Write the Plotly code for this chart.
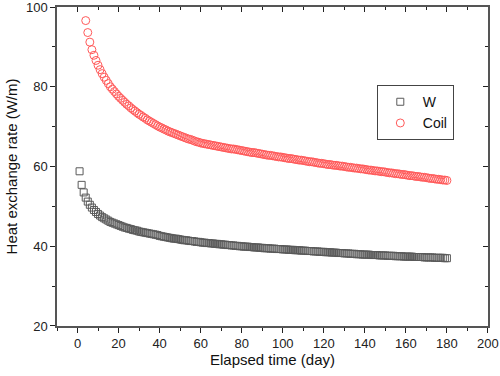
import plotly.graph_objects as go

w_days = list(range(1, 181))
w_values = [
    58.8, 55.4, 53.5, 52.2, 51.2, 50.4, 49.7, 49.1, 48.6, 48.1,
    47.7, 47.3, 47.0, 46.7, 46.4, 46.1, 45.9, 45.7, 45.5, 45.3,
    45.1, 44.9, 44.7, 44.6, 44.4, 44.3, 44.1, 44.0, 43.9, 43.7,
    43.6, 43.5, 43.4, 43.3, 43.2, 43.1, 43.0, 42.9, 42.8, 42.6,
    42.5, 42.4, 42.3, 42.2, 42.1, 42.0, 41.9, 41.9, 41.8, 41.7,
    41.6, 41.5, 41.5, 41.4, 41.3, 41.3, 41.2, 41.1, 41.1, 41.0,
    40.9, 40.9, 40.8, 40.8, 40.7, 40.7, 40.6, 40.6, 40.5, 40.5,
    40.4, 40.4, 40.3, 40.3, 40.2, 40.2, 40.1, 40.1, 40.0, 40.0,
    39.9, 39.9, 39.9, 39.8, 39.8, 39.7, 39.7, 39.7, 39.6, 39.6,
    39.5, 39.5, 39.5, 39.4, 39.4, 39.4, 39.3, 39.3, 39.3, 39.2,
    39.2, 39.2, 39.1, 39.1, 39.1, 39.0, 39.0, 39.0, 38.9, 38.9,
    38.9, 38.8, 38.8, 38.8, 38.7, 38.7, 38.7, 38.6, 38.6, 38.6,
    38.5, 38.5, 38.5, 38.4, 38.4, 38.4, 38.3, 38.3, 38.3, 38.2,
    38.2, 38.2, 38.1, 38.1, 38.1, 38.0, 38.0, 38.0, 37.9, 37.9,
    37.9, 37.9, 37.8, 37.8, 37.8, 37.8, 37.7, 37.7, 37.7, 37.7,
    37.6, 37.6, 37.6, 37.6, 37.5, 37.5, 37.5, 37.5, 37.4, 37.4,
    37.4, 37.4, 37.4, 37.3, 37.3, 37.3, 37.3, 37.3, 37.2, 37.2,
    37.2, 37.2, 37.2, 37.1, 37.1, 37.1, 37.1, 37.1, 37.0, 37.0,
]

coil_days = list(range(4, 181))
coil_values = [
    96.6, 93.6, 91.2, 89.3, 87.9, 86.6, 85.4,
    84.3, 83.3, 82.4, 81.6, 80.8, 80.0,
    79.4, 78.8, 78.2, 77.6,
    77.1, 76.6, 76.1, 75.6, 75.2, 74.7, 74.3, 73.9, 73.5, 73.1,
    72.8, 72.4, 72.1, 71.7, 71.4, 71.1, 70.8, 70.5, 70.2, 69.9,
    69.7, 69.4, 69.2, 68.9, 68.7, 68.5, 68.3, 68.1, 67.9, 67.7,
    67.5, 67.3, 67.1, 66.9, 66.8, 66.6, 66.4, 66.2, 66.1, 65.9,
    65.8, 65.7, 65.6, 65.5, 65.4, 65.3, 65.2, 65.1, 65.0, 64.9,
    64.8, 64.7, 64.6, 64.5, 64.4, 64.4, 64.3, 64.2, 64.1, 64.0,
    63.9, 63.8, 63.7, 63.6, 63.5, 63.5, 63.4, 63.3, 63.2, 63.1,
    63.0, 62.9, 62.8, 62.8, 62.7, 62.6, 62.5, 62.4, 62.4, 62.3,
    62.2, 62.1, 62.0, 62.0, 61.9, 61.8, 61.7, 61.6, 61.6, 61.5,
    61.4, 61.3, 61.2, 61.2, 61.1, 61.0, 60.9, 60.8, 60.8, 60.7,
    60.6, 60.5, 60.5, 60.4, 60.3, 60.3, 60.2, 60.1, 60.1, 60.0,
    59.9, 59.8, 59.8, 59.7, 59.6, 59.6, 59.5, 59.4, 59.4, 59.3,
    59.2, 59.1, 59.1, 59.0, 58.9, 58.9, 58.8, 58.7, 58.7, 58.6,
    58.5, 58.4, 58.4, 58.3, 58.2, 58.2, 58.1, 58.0, 58.0, 57.9,
    57.8, 57.7, 57.7, 57.6, 57.5, 57.5, 57.4, 57.3, 57.3, 57.2,
    57.1, 57.0, 57.0, 56.9, 56.8, 56.8, 56.7, 56.6, 56.6, 56.5,
]

x_ticks = [0, 20, 40, 60, 80, 100, 120, 140, 160, 180, 200]
y_ticks = [20, 40, 60, 80, 100]
x_range = [-10, 200.02]
y_range = [19.995, 100.01]

FONT = "Liberation Sans, Arial, sans-serif"
AX = "#555555"
TC = "#222222"


def minor(kind):
    return dict(dtick=10, tick0=0, ticklen=3, tickcolor=TC, ticks=kind)


base = dict(showgrid=False, zeroline=False, showline=True, linecolor=AX,
            linewidth=1.5, tickcolor=TC, ticklen=5, tickwidth=1, automargin=False,
            ticklabeloverflow="allow")

fig = go.Figure()
fig.add_trace(go.Scatter(
    x=w_days, y=w_values, mode="markers", name="W",
    marker=dict(symbol="square-open", size=7, color="#5a5a5a", line=dict(width=1)),
))
fig.add_trace(go.Scatter(
    x=coil_days, y=coil_values, mode="markers", name="Coil",
    marker=dict(symbol="circle-open", size=8, color="#ff5a5a", line=dict(width=1)),
))
# invisible trace hosting the mirrored (top/right) axes
fig.add_trace(go.Scatter(
    x=[x_range[0]], y=[y_range[0]], xaxis="x2", yaxis="y2", mode="markers",
    marker=dict(opacity=0), showlegend=False, hoverinfo="skip",
))

fig.update_layout(
    width=500, height=376,
    margin=dict(l=57, r=12, t=7, b=50),
    paper_bgcolor="white", plot_bgcolor="white",
    font=dict(family=FONT, color="#111"),
    xaxis=dict(base, range=x_range, tickvals=x_ticks, ticks="outside", minor=minor("outside"),
               tickfont=dict(size=13, color=TC),
               title=dict(text="Elapsed time (day)", font=dict(size=15, color="#111"), standoff=3)),
    yaxis=dict(base, range=y_range, tickvals=y_ticks, ticks="outside", minor=minor("outside"),
               tickfont=dict(size=13, color=TC),
               title=dict(text="Heat exchange rate (W/m)", font=dict(size=15, color="#111"), standoff=5)),
    xaxis2=dict(base, range=x_range, tickvals=x_ticks, overlaying="x", side="top",
                ticks="inside", minor=minor("inside"), showticklabels=False),
    yaxis2=dict(base, range=y_range, tickvals=y_ticks, overlaying="y", side="right",
                ticks="inside", minor=minor("inside"), showticklabels=False),
    showlegend=True,
    legend=dict(x=0.742, y=0.755, xanchor="left", yanchor="top",
                bordercolor="#444", borderwidth=1, bgcolor="white",
                font=dict(size=14, family=FONT, color="#111"),
                itemwidth=35, tracegroupgap=0),
)

fig.write_html(
    "out.html",
    config={"displayModeBar": False},
    post_script="document.body.style.margin='0';document.body.style.overflow='hidden';",
)
